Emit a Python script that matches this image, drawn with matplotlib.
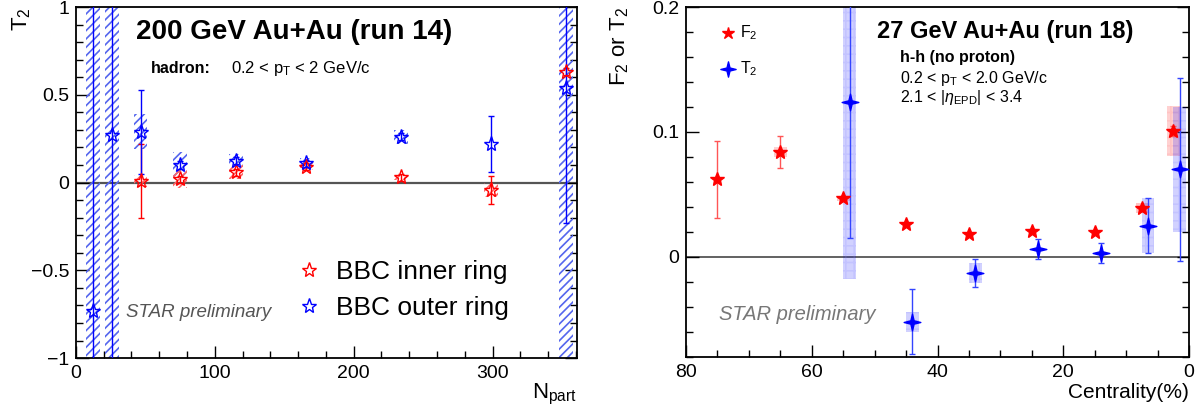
import numpy as np
import matplotlib.pyplot as plt
from matplotlib.patches import Rectangle
from matplotlib.path import Path
from matplotlib.ticker import MultipleLocator, FuncFormatter

plt.rcParams['font.family'] = ['Liberation Sans', 'DejaVu Sans']
plt.rcParams['mathtext.fontset'] = 'custom'
plt.rcParams['mathtext.rm'] = 'Liberation Sans'
plt.rcParams['mathtext.it'] = 'Liberation Sans:italic'
plt.rcParams['hatch.linewidth'] = 1.2

# ---- left panel: 200 GeV Au+Au (run 14), T2 vs Npart
npart_in = [46.5, 75, 115, 166, 234, 299, 353]
t2_in = [0.01, 0.02, 0.06, 0.09, 0.03, -0.04, 0.63]
t2_in_err = [0.21, 0.02, 0.02, 0.02, 0.02, 0.08, 0.02]
t2_in_sys = [0.035, 0.05, 0.04, 0.02, 0.015, 0.04, 0.0]

npart_out = [12.3, 26, 46.5, 75, 115, 166, 234, 299, 353]
t2_out = [-0.73, 0.27, 0.29, 0.10, 0.125, 0.11, 0.26, 0.22, 0.54]
t2_out_err = [2.0, 2.0, 0.24, 0.02, 0.02, 0.02, 0.02, 0.16, 0.77]
t2_out_sys = [2.0, 2.0, 0.10, 0.075, 0.035, 0.03, 0.04, 0.0, 2.0]

# ---- right panel: 27 GeV Au+Au (run 18), F2 / T2 vs centrality
cent_f2 = [75, 65, 55, 45, 35, 25, 15, 7.5, 2.5]
f2 = [0.062, 0.084, 0.047, 0.026, 0.018, 0.021, 0.020, 0.039, 0.101]
f2_err = [0.031, 0.013, 0.002, 0.001, 0.001, 0.001, 0.001, 0.002, 0.004]
f2_sys = [0.0, 0.004, 0.002, 0.0, 0.0, 0.0, 0.0, 0.004, 0.020]

cent_t2 = [54, 44, 34, 24, 14, 6.5, 1.5]
t2 = [0.124, -0.052, -0.013, 0.006, 0.003, 0.025, 0.070]
t2_err = [0.109, 0.026, 0.011, 0.008, 0.008, 0.022, 0.073]
t2_sys = [0.142, 0.008, 0.008, 0.0, 0.0, 0.022, 0.05]

RED = '#ff0000'
BLUE = '#0000ff'

# four-pointed star like ROOT marker 34-ish
ang = np.deg2rad(np.arange(8) * 45 + 90)
rad = np.where(np.arange(8) % 2 == 0, 1.0, 0.28)
verts = np.column_stack([rad * np.cos(ang), rad * np.sin(ang)])
verts = np.vstack([verts, verts[:1]])
STAR4 = Path(verts, [Path.MOVETO] + [Path.LINETO] * 7 + [Path.CLOSEPOLY])


def root_axes(ax):
    ax.tick_params(which='both', direction='in', right=True, labelsize=14, width=1.0)
    ax.tick_params(which='major', length=9, pad=5)
    ax.tick_params(which='minor', length=5)
    for s in ax.spines.values():
        s.set_linewidth(1.3)


def num(v, pos):
    s = ('%g' % round(v, 3))
    return s.replace('-', '\u2212')


fig = plt.figure(figsize=(12, 4.13), dpi=100)

# left
ax1 = fig.add_axes([0.0633, 0.133, 0.4177, 0.850])
ax1.set_xlim(0, 361)
ax1.set_ylim(-1, 1)
ax1.axhline(0, color='#555555', lw=1.6, zorder=1)
for x, y, s in zip(npart_out, t2_out, t2_out_sys):
    if s > 0:
        ax1.add_patch(Rectangle((x - 5, y - s), 10, 2 * s, fill=False, hatch='////',
                                edgecolor='#5566ee', lw=0, zorder=2))
for x, y, s in zip(npart_in, t2_in, t2_in_sys):
    if s > 0:
        ax1.add_patch(Rectangle((x - 5, y - s), 10, 2 * s, fill=False, hatch='////',
                                edgecolor='#ff6666', lw=0, zorder=2))
ax1.errorbar(npart_in, t2_in, yerr=t2_in_err, fmt='none', ecolor=RED, elinewidth=1.0,
             capsize=2, zorder=3)
ax1.errorbar(npart_out, t2_out, yerr=t2_out_err, fmt='none', ecolor=BLUE, elinewidth=1.0,
             capsize=2, zorder=3)
ax1.plot(npart_in, t2_in, ls='none', marker='*', ms=11, mfc='none', mec=RED, mew=1.0,
         zorder=4, label='BBC inner ring')
ax1.plot(npart_out, t2_out, ls='none', marker='*', ms=11, mfc='none', mec=BLUE, mew=1.0,
         zorder=4, label='BBC outer ring')
ax1.xaxis.set_major_locator(MultipleLocator(100))
ax1.xaxis.set_minor_locator(MultipleLocator(20))
ax1.yaxis.set_major_locator(MultipleLocator(0.5))
ax1.yaxis.set_minor_locator(MultipleLocator(0.1))
ax1.yaxis.set_major_formatter(FuncFormatter(num))
root_axes(ax1)
ax1.text(-0.13, 1.0, 'T$_2$', transform=ax1.transAxes, rotation=90, fontsize=16,
         ha='left', va='top')
ax1.text(1.0, -0.105, 'N$_{\\rm part}$', transform=ax1.transAxes, fontsize=16,
         ha='right', va='center')
ax1.text(0.12, 0.93, '200 GeV Au+Au (run 14)', transform=ax1.transAxes, fontsize=20,
         fontweight='bold', va='center')
ax1.text(0.15, 0.826, 'hadron:', transform=ax1.transAxes, fontsize=11.5,
         fontweight='bold', va='center')
ax1.text(0.31, 0.826, '0.2 < p$_{\\rm T}$ < 2 GeV/c', transform=ax1.transAxes,
         fontsize=12, va='center')
ax1.text(0.10, 0.131, 'STAR preliminary', transform=ax1.transAxes, fontsize=13.5,
         style='italic', color='#555555', va='center')
ax1.legend(loc='lower left', bbox_to_anchor=(0.385, 0.04), frameon=False, fontsize=19,
           handletextpad=0.45, labelspacing=0.45, handlelength=1.2)

# right
ax2 = fig.add_axes([0.5717, 0.136, 0.4192, 0.847])
ax2.set_xlim(80, 0)
ax2.set_ylim(-0.08, 0.2)
ax2.axhline(0, color='#555555', lw=1.3, zorder=1)
for x, y, s in zip(cent_f2, f2, f2_sys):
    if s > 0:
        ax2.add_patch(Rectangle((x - 1, y - s), 2, 2 * s, facecolor=RED, alpha=0.18,
                                hatch='++', edgecolor='#ff8888', lw=0, zorder=2))
for x, y, s in zip(cent_t2, t2, t2_sys):
    if s > 0:
        ax2.add_patch(Rectangle((x - 1, y - s), 2, 2 * s, facecolor=BLUE, alpha=0.18,
                                hatch='++', edgecolor='#8888ff', lw=0, zorder=2))
ax2.errorbar(cent_f2, f2, yerr=f2_err, fmt='none', ecolor='#ff5555', elinewidth=1.0,
             capsize=2, zorder=3)
ax2.errorbar(cent_t2, t2, yerr=t2_err, fmt='none', ecolor='#3344ff', elinewidth=1.0,
             capsize=2, zorder=3)
ax2.plot(cent_f2, f2, ls='none', marker='*', ms=10, color=RED, mec=RED, zorder=4)
ax2.plot(cent_t2, t2, ls='none', marker=STAR4, ms=12, color=BLUE, mec=BLUE, zorder=4)
ax2.xaxis.set_major_locator(MultipleLocator(20))
ax2.xaxis.set_minor_locator(MultipleLocator(5))
ax2.yaxis.set_major_locator(MultipleLocator(0.1))
ax2.yaxis.set_minor_locator(MultipleLocator(0.02))
ax2.yaxis.set_major_formatter(FuncFormatter(num))
root_axes(ax2)
ax2.text(-0.155, 1.0, 'F$_2$ or T$_2$', transform=ax2.transAxes, rotation=90,
         fontsize=16, ha='left', va='top')
ax2.text(1.0, -0.103, 'Centrality(%)', transform=ax2.transAxes, fontsize=15,
         ha='right', va='center')
ax2.text(0.38, 0.93, '27 GeV Au+Au (run 18)', transform=ax2.transAxes, fontsize=17,
         fontweight='bold', va='center')
ax2.text(0.425, 0.857, 'h-h (no proton)', transform=ax2.transAxes, fontsize=11.5,
         fontweight='bold', va='center')
ax2.text(0.425, 0.797, '0.2 < p$_{\\rm T}$ < 2.0 GeV/c', transform=ax2.transAxes,
         fontsize=11.5, va='center')
ax2.text(0.425, 0.74, '2.1 < |$\\eta_{\\rm EPD}$| < 3.4', transform=ax2.transAxes,
         fontsize=11.5, va='center')
ax2.text(0.066, 0.12, 'STAR preliminary', transform=ax2.transAxes, fontsize=14.5,
         style='italic', color='#777777', va='center')
ax2.plot([0.083], [0.926], transform=ax2.transAxes, marker='*', ms=9, color=RED, ls='none')
ax2.plot([0.083], [0.823], transform=ax2.transAxes, marker=STAR4, ms=11, color=BLUE,
         ls='none')
ax2.text(0.108, 0.926, 'F$_2$', transform=ax2.transAxes, fontsize=11.5, va='center')
ax2.text(0.108, 0.823, 'T$_2$', transform=ax2.transAxes, fontsize=11.5, va='center')

fig.savefig('out.png', dpi=100)
